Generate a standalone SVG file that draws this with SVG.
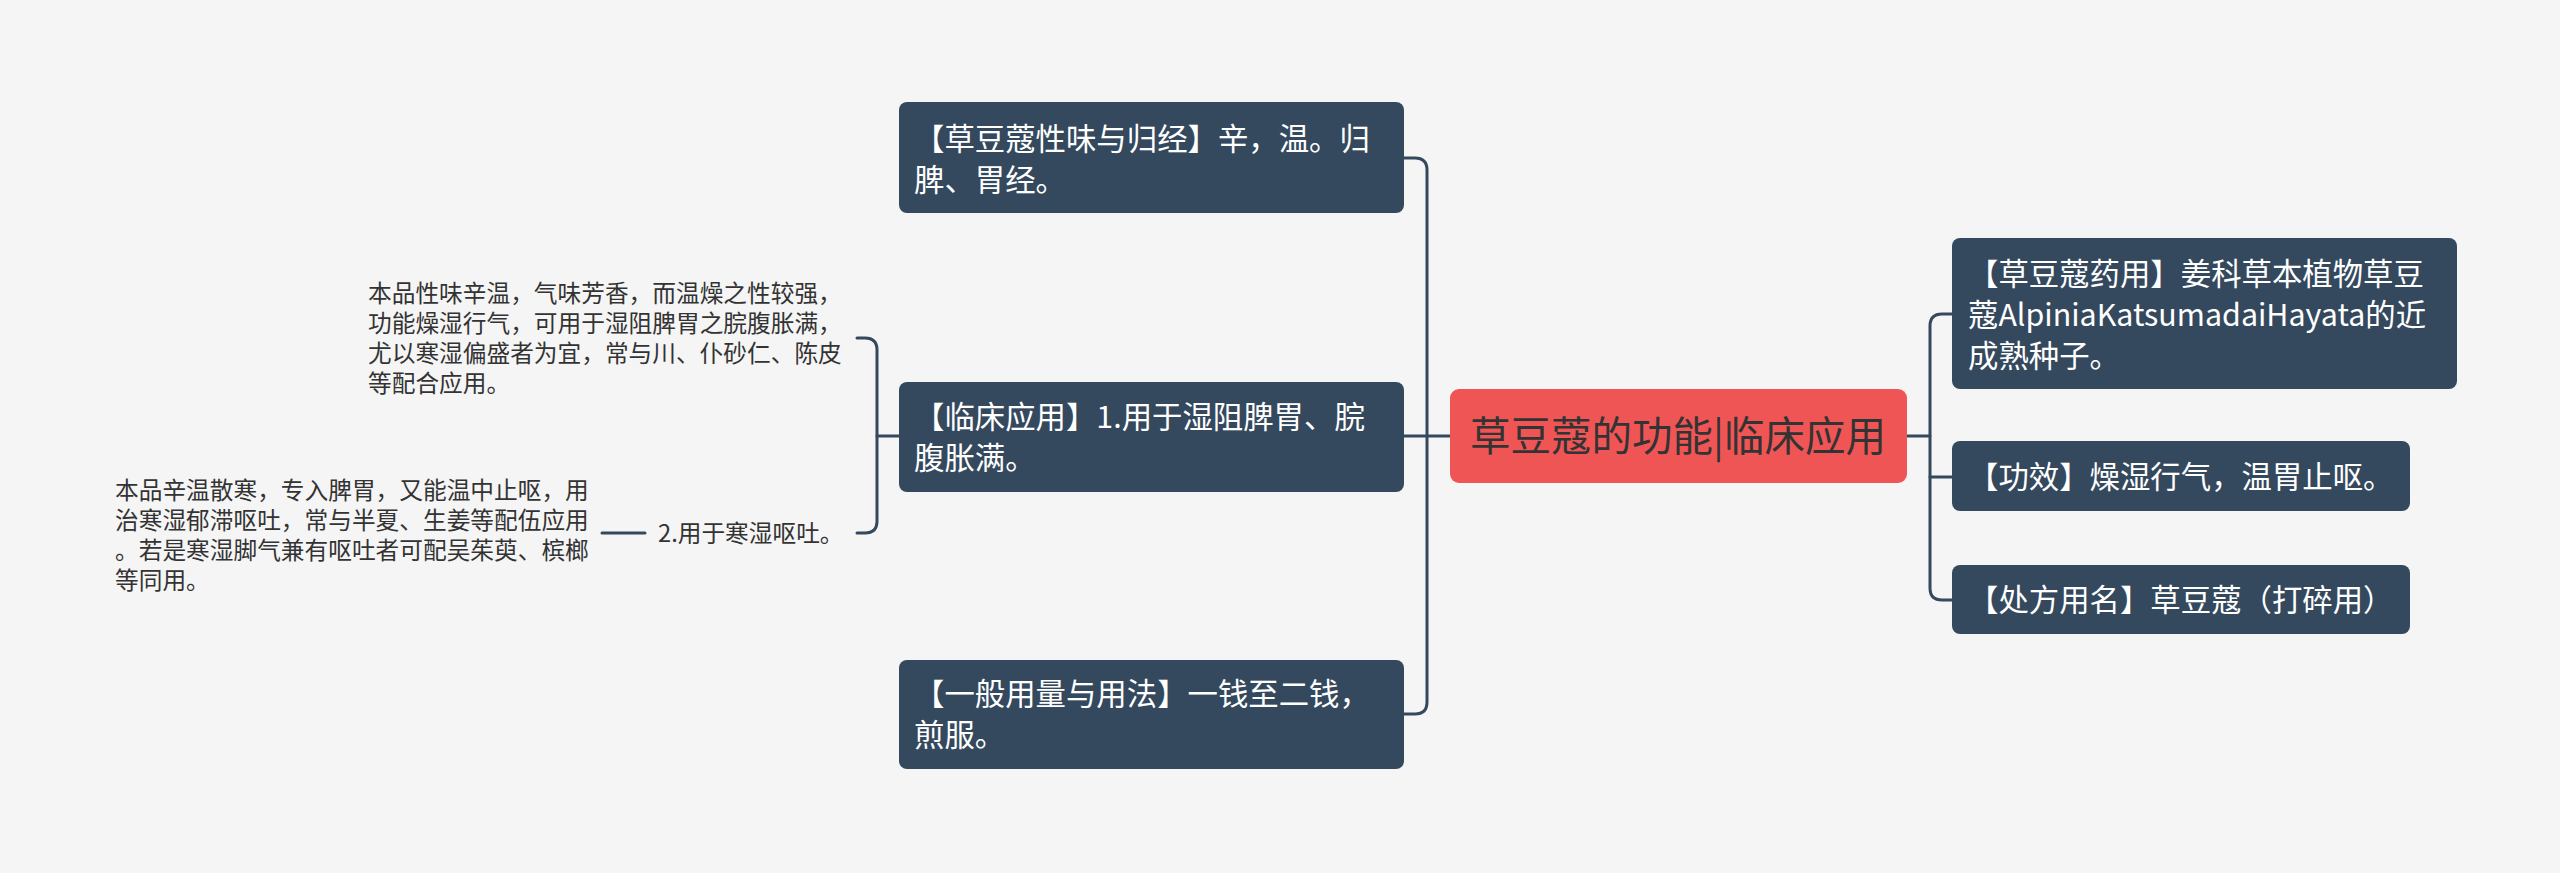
<svg xmlns="http://www.w3.org/2000/svg" width="2560" height="873" viewBox="0 0 2560 873">
<style>
.bg{fill:#f5f5f5}
.box{fill:#34495e}
.root{fill:#f05556}
.t{font-family:"Noto Sans CJK SC","Noto Sans",sans-serif;font-size:30.4px;fill:#ffffff}
.rt{font-family:"Noto Sans CJK SC","Noto Sans",sans-serif;font-size:40.5px;fill:#333333}
.d{font-family:"Noto Sans CJK SC","Noto Sans",sans-serif;font-size:23.7px;fill:#333333}
.c{fill:none;stroke:#34495e;stroke-width:3;stroke-linecap:round;stroke-linejoin:round}
</style>
<rect class="bg" x="0" y="0" width="2560" height="873"/>
<g id="connectors">
<path class="c" d="M1404,158 H1415 Q1427,158 1427,170 V702 Q1427,714 1415,714 H1404"/>
<path class="c" d="M1404,436 H1450"/>
<path class="c" d="M1907,436 H1930"/>
<path class="c" d="M1952,314 H1942 Q1930,314 1930,326 V588 Q1930,600 1942,600 H1952"/>
<path class="c" d="M1930,477 H1952"/>
<path class="c" d="M857,338 H865 Q877,338 877,350 V521 Q877,533 865,533 H857"/>
<path class="c" d="M877,436 H899"/>
<path class="c" d="M602,533 H645"/>
</g>
<g id="root">
<rect class="root" x="1450" y="389" width="457" height="94" rx="9"/>
<text class="rt" x="1678" y="451" text-anchor="middle">草豆蔻的功能|临床应用</text>
</g>
<g id="node-xingwei">
<rect class="box" x="899" y="102" width="505" height="111" rx="8"/>
<text class="t"><tspan x="914" y="150">【草豆蔻性味与归经】辛，温。归</tspan><tspan x="914" y="191">脾、胃经。</tspan></text>
</g>
<g id="node-linchuang">
<rect class="box" x="899" y="382" width="505" height="110" rx="8"/>
<text class="t"><tspan x="914" y="428">【临床应用】1.用于湿阻脾胃、脘</tspan><tspan x="914" y="469">腹胀满。</tspan></text>
</g>
<g id="node-yongliang">
<rect class="box" x="899" y="660" width="505" height="109" rx="8"/>
<text class="t"><tspan x="914" y="705">【一般用量与用法】一钱至二钱，</tspan><tspan x="914" y="746">煎服。</tspan></text>
</g>
<g id="node-yaoyong">
<rect class="box" x="1952" y="238" width="505" height="151" rx="8"/>
<text class="t"><tspan x="1968" y="285">【草豆蔻药用】姜科草本植物草豆</tspan><tspan x="1968" y="326">蔻AlpiniaKatsumadaiHayata的近</tspan><tspan x="1968" y="367">成熟种子。</tspan></text>
</g>
<g id="node-gongxiao">
<rect class="box" x="1952" y="441" width="458" height="70" rx="8"/>
<text class="t" x="1968" y="488">【功效】燥湿行气，温胃止呕。</text>
</g>
<g id="node-chufang">
<rect class="box" x="1952" y="565" width="458" height="69" rx="8"/>
<text class="t" x="1968" y="611">【处方用名】草豆蔻（打碎用）</text>
</g>
<g id="detail-1">
<text class="d"><tspan x="368" y="302">本品性味辛温，气味芳香，而温燥之性较强，</tspan><tspan x="368" y="332">功能燥湿行气，可用于湿阻脾胃之脘腹胀满，</tspan><tspan x="368" y="362">尤以寒湿偏盛者为宜，常与川、仆砂仁、陈皮</tspan><tspan x="368" y="392">等配合应用。</tspan></text>
</g>
<g id="node-outu">
<text class="d" x="658" y="542">2.用于寒湿呕吐。</text>
</g>
<g id="detail-2">
<text class="d"><tspan x="115" y="499">本品辛温散寒，专入脾胃，又能温中止呕，用</tspan><tspan x="115" y="529">治寒湿郁滞呕吐，常与半夏、生姜等配伍应用</tspan><tspan x="115" y="559">。若是寒湿脚气兼有呕吐者可配吴茱萸、槟榔</tspan><tspan x="115" y="589">等同用。</tspan></text>
</g>
</svg>
